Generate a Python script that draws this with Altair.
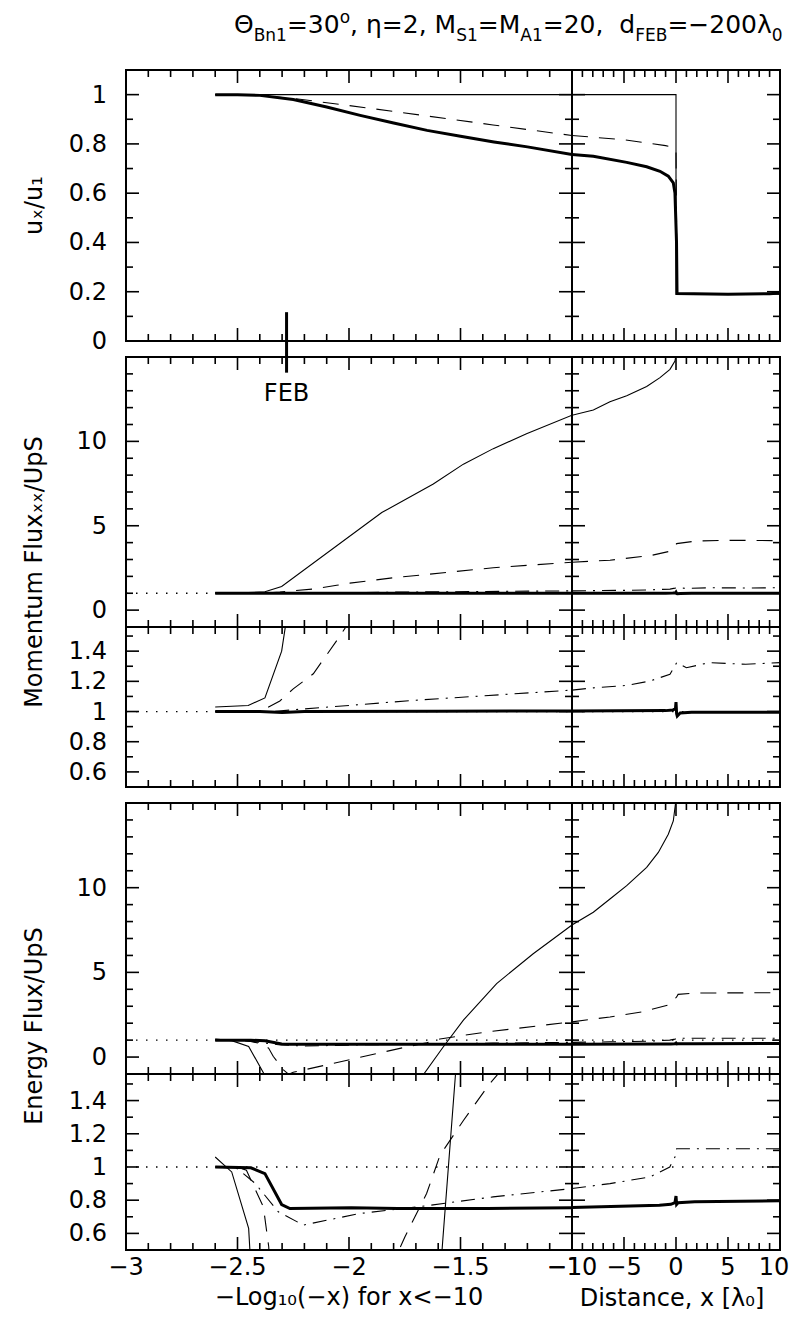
import altair as alt
import pandas as pd

FONT = "DejaVu Sans"
FW = "normal"

# ---------------- values ----------------
# left panels: abscissa = -Log10(-x) for x < -10 ; right panels: x in lambda_0
# ---- u_x / u_1 ----
U_THICK_LX = [-2.6, -2.5, -2.4, -2.25, -2.1, -1.95, -1.8, -1.65, -1.5, -1.35, -1.2, -1.0]
U_THICK_LY = [1.0, 1.0, 0.997, 0.98, 0.95, 0.916, 0.885, 0.855, 0.831, 0.808, 0.788, 0.757]
U_THICK_RX = [-10, -7.95, -4.74, -2.82, -1.54, -0.74, -0.26, -0.1, 0.05, 0.1, 5, 9, 10]
U_THICK_RY = [0.757, 0.750, 0.725, 0.707, 0.689, 0.669, 0.642, 0.601, 0.40, 0.193, 0.19, 0.192, 0.195]
U_THIN_LX = [-2.6, -1.0]
U_THIN_LY = [1.0, 1.0]
U_THIN_RX = [-10, 0, 0, 10]
U_THIN_RY = [1.0, 1.0, 0.19, 0.19]
U_DASH_LX = [-2.6, -2.4, -2.3, -2.25, -1.8, -1.354, -1.0]
U_DASH_LY = [1.0, 0.997, 0.988, 0.985, 0.932, 0.877, 0.834]
U_DASH_RX = [-10, -5, -1, -0.3, 0.0, 0.1, 10]
U_DASH_RY = [0.834, 0.817, 0.793, 0.786, 0.77, 0.19, 0.19]

# ---- momentum flux ----
M_THICK_LX = [-2.6, -2.4, -2.3, -2.2, -1.6, -1.0]
M_THICK_LY = [1.0, 1.0, 0.994, 1.0, 1.002, 1.004]
M_THICK_RX = [-10, -1, -0.3, -0.05, 0.0, 0.06, 0.12, 0.4, 1.5, 10]
M_THICK_RY = [1.004, 1.006, 1.01, 1.02, 1.062, 0.985, 0.97, 0.99, 0.995, 0.995]
M_THIN_LX = [-2.6, -2.452, -2.377, -2.302, -1.853, -1.622, -1.487, -1.353, -1.204, -1.0]
M_THIN_LY = [1.03, 1.04, 1.09, 1.40, 5.78, 7.47, 8.65, 9.57, 10.45, 11.55]
M_THIN_RX = [-10, -7.95, -6.35, -4.74, -2.82, -1.54, -0.58, -0.1, 0.05, 0.3]
M_THIN_RY = [11.55, 11.86, 12.35, 12.71, 13.25, 13.78, 14.27, 14.76, 15.3, 18.0]
M_DASH_LX = [-2.6, -2.4, -2.31, -2.25, -2.16, -2.055, -1.996, -1.8, -1.353, -1.0]
M_DASH_LY = [1.0, 1.0, 1.07, 1.15, 1.25, 1.47, 1.60, 1.92, 2.51, 2.84]
M_DASH_RX = [-10, -6.35, -2.4, -0.58, 0.06, 1.99, 5.5, 9.35, 10]
M_DASH_RY = [2.84, 2.96, 3.24, 3.49, 3.94, 4.10, 4.14, 4.12, 4.10]
M_DDOT_LX = [-2.6, -2.35, -1.7, -1.0]
M_DDOT_LY = [1.0, 1.0, 1.075, 1.142]
M_DDOT_RX = [-10, -7.95, -4.74, -2.5, -0.58, -0.1, 0.06, 1.0, 3.2, 6.7, 10]
M_DDOT_RY = [1.142, 1.157, 1.173, 1.202, 1.247, 1.302, 1.324, 1.29, 1.324, 1.313, 1.324]

# ---- energy flux ----
E_THICK_LX = [-2.6, -2.44, -2.377, -2.302, -2.265, -1.99, -1.78, -1.38, -1.0]
E_THICK_LY = [1.0, 0.995, 0.96, 0.774, 0.75, 0.755, 0.75, 0.75, 0.755]
E_THICK_RX = [-10, -1.6, -0.5, -0.1, 0.0, 0.06, 0.2, 1.8, 10]
E_THICK_RY = [0.756, 0.77, 0.775, 0.785, 0.825, 0.775, 0.785, 0.79, 0.796]
E_THIN_LX = [-2.6, -2.526, -2.45, -2.38, -2.3, -1.75, -1.667, -1.58, -1.487, -1.338, -1.174, -1.0]
E_THIN_LY = [1.06, 0.97, 0.63, -1.02, -2.0, -2.0, -1.05, 0.55, 2.18, 4.34, 6.1, 7.8]
E_THIN_RX = [-10, -7.95, -6.35, -4.74, -2.82, -1.7, -0.74, -0.26, 0.0, 0.3]
E_THIN_RY = [7.8, 8.55, 9.33, 10.12, 11.2, 12.08, 13.16, 13.94, 15.2, 18.0]
E_DASH_LX = [-2.6, -2.5, -2.46, -2.384, -2.36, -2.34, -2.294, -2.27, -2.25, -1.951, -1.749,
             -1.652, -1.592, -1.487, -1.37, -1.0]
E_DASH_LY = [1.0, 1.0, 0.98, 0.76, 0.52, 0.05, -0.76, -1.02, -0.9, -0.02, 0.58,
             0.84, 1.07, 1.28, 1.5, 2.08]
E_DASH_RX = [-10, -6.35, -3.3, -0.58, 0.06, 0.2, 1.8, 9.35, 10]
E_DASH_RY = [2.08, 2.37, 2.66, 3.1, 3.55, 3.7, 3.78, 3.80, 3.78]
E_DDOT_LX = [-2.6, -2.5, -2.42, -2.317, -2.205, -1.951, -1.689, -1.354, -1.0]
E_DDOT_LY = [1.0, 0.99, 0.9, 0.73, 0.65, 0.72, 0.76, 0.82, 0.87]
E_DDOT_RX = [-10, -6.35, -2.5, -0.6, -0.1, 0.06, 1.8, 9.35, 10]
E_DDOT_RY = [0.87, 0.90, 0.94, 1.0, 1.06, 1.11, 1.11, 1.11, 1.11]

# far-upstream reference level (dotted)
REF_LX = [-3, -1]
REF_RX = [-10, 10]
REF_Y = [1, 1]

# FEB marker
FEB_X = [-2.28]
FEB_Y = [0.117]
FEB_Y2 = [-0.1285]
FEB_LABEL = "FEB"
FEB_LABEL_Y = [12.8]

# ticks and labels
LX_MAJOR = [-3, -2.5, -2, -1.5, -1]
LX_MINOR = [-2.9, -2.8, -2.7, -2.6, -2.4, -2.3, -2.2, -2.1, -1.9, -1.8, -1.7, -1.6,
            -1.4, -1.3, -1.2, -1.1]
RX_MAJOR = [-10, -5, 0, 5, 10]
RX_MINOR = [-9, -8, -7, -6, -4, -3, -2, -1, 1, 2, 3, 4, 6, 7, 8, 9]
U_Y_MAJOR = [0, 0.2, 0.4, 0.6, 0.8, 1.0]
U_Y_MINOR = [0.1, 0.3, 0.5, 0.7, 0.9]
F_Y_MAJOR = [0, 5, 10]
F_Y_MINOR = [1, 2, 3, 4, 6, 7, 8, 9, 11, 12, 13, 14]
Z_Y_MAJOR = [0.6, 0.8, 1.0, 1.2, 1.4]
Z_Y_MINOR = [0.7, 0.9, 1.1, 1.3, 1.5]

LX_LABELS = [-3, -2.5, -2, -1.5]
LX_EDGE_LABELS = [-1]
RX_LABELS = [-10, -5, 0, 5]
RX_EDGE_LABELS = [10]
U_LABELS = [0, 0.2, 0.4, 0.6, 0.8, 1]
F_LABELS = [0, 5, 10]
Z_LABELS = [0.6, 0.8, 1, 1.2, 1.4]

LX_DOM = [-3, -1]
RX_DOM = [-10, 10]
U_DOM = [0, 1.1]
F_DOM = [-1, 15]
Z_DOM = [0.5, 1.56]

TITLE_TEXT = ["Θ", "Bn1", "=30", "o", ", η=2, ", "M", "S1", "=M", "A1", "=20,  ",
              "d", "FEB", "=−200λ", "0"]
TITLE_KIND = ["n", "s", "n", "p", "n", "n", "s", "n", "s", "n", "n", "s", "n", "s"]

Y_TITLES = ["uₓ/u₁", "Momentum Fluxₓₓ/UpS", "Energy Flux/UpS"]
X_TITLES = ["−Log₁₀(−x) for x<−10", "Distance, x [λ₀]"]

# ---------------- layout / style ----------------
LW, RW = 446, 208
H1, H2, H3, H4, H5 = 271, 270, 160, 271, 176
GAP = 16
FS = 24

STY = {
    "thick": dict(strokeWidth=3),
    "thin": dict(strokeWidth=1.1),
    "dash": dict(strokeWidth=1.1, strokeDash=[16, 11]),
    "ddot": dict(strokeWidth=1.1, strokeDash=[14, 7, 2, 7]),
    "dot": dict(strokeWidth=1.3, strokeDash=[1.5, 8.5]),
}

TXT = dict(font=FONT, fontWeight=FW, fontSize=FS)


def sc(dom):
    return alt.Scale(domain=dom, nice=False, zero=False)


def line_layer(xs, ys, style, xd, yd):
    d = pd.DataFrame({"x": xs, "y": ys, "i": list(range(len(xs)))})
    return alt.Chart(d).mark_line(clip=True, **STY[style]).encode(
        x=alt.X("x:Q", scale=sc(xd), axis=None),
        y=alt.Y("y:Q", scale=sc(yd), axis=None),
        order=alt.Order("i:Q"),
        color=alt.value("black"),
    )


def tick_layers(xd, yd, w, h, xmaj, xmin, ymaj, ymin):
    out = []
    for vals, ln in ((xmaj, 13), (xmin, 7)):
        d = pd.DataFrame({"v": vals})
        for top in (True, False):
            out.append(alt.Chart(d).mark_rule(strokeWidth=1.6).encode(
                x=alt.X("v:Q", scale=sc(xd), axis=None),
                y=alt.value(0 if top else h),
                y2=alt.value(ln if top else h - ln),
                color=alt.value("black"),
            ))
    for vals, ln in ((ymaj, 13), (ymin, 7)):
        d = pd.DataFrame({"v": vals})
        for left in (True, False):
            out.append(alt.Chart(d).mark_rule(strokeWidth=1.6).encode(
                y=alt.Y("v:Q", scale=sc(yd), axis=None),
                x=alt.value(0 if left else w),
                x2=alt.value(ln if left else w - ln),
                color=alt.value("black"),
            ))
    return out


def ylabel_layer(vals, yd):
    return alt.Chart(pd.DataFrame({"v": vals})).mark_text(
        align="right", baseline="middle", dy=1, **TXT).encode(
        x=alt.value(-19),
        y=alt.Y("v:Q", scale=sc(yd), axis=None),
        text=alt.Text("v:Q", format="~g"),
        color=alt.value("black"),
    )


def xlabel_layer(vals, xd, h, dx=0):
    return alt.Chart(pd.DataFrame({"v": vals})).mark_text(
        align="center", baseline="top", dx=dx, **TXT).encode(
        x=alt.X("v:Q", scale=sc(xd), axis=None),
        y=alt.value(h + 6),
        text=alt.Text("v:Q", format="~g"),
        color=alt.value("black"),
    )


def ytitle_layer(text, ypix):
    return alt.Chart(pd.DataFrame({"a": [0]})).mark_text(
        align="center", baseline="alphabetic", angle=270, **TXT).encode(
        x=alt.value(-84), y=alt.value(ypix), text=alt.value(text),
        color=alt.value("black"))


def xtitle_layer(text, xpix, ypix):
    return alt.Chart(pd.DataFrame({"a": [0]})).mark_text(
        align="center", baseline="alphabetic", **TXT).encode(
        x=alt.value(xpix), y=alt.value(ypix), text=alt.value(text),
        color=alt.value("black"))


def panel(xd, w, yd, h, lines, xmaj, xmin, ymaj, ymin, extras=()):
    layers = [line_layer(xs, ys, st, xd, yd) for xs, ys, st in lines]
    layers += tick_layers(xd, yd, w, h, xmaj, xmin, ymaj, ymin)
    layers += list(extras)
    return alt.layer(*layers).properties(width=w, height=h)


def spacer(w):
    return alt.Chart(pd.DataFrame({"a": [0]})).mark_point(opacity=0).encode(
        x=alt.value(0), y=alt.value(0)
    ).properties(width=w, height=GAP,
                 view=alt.ViewBackground(strokeOpacity=0, strokeWidth=0))


# ---------------- title (segments with sub/superscripts) ----------------
CW = {"Θ": .787, "B": .686, "n": .634, "=": .838, "o": .612, ",": .318, " ": .318,
      "η": .634, "M": .863, "S": .635, "A": .684, "d": .635, "F": .575, "E": .632,
      "−": .838, "λ": .592}
title_layers = []
xcur = 108.0
for seg, kind in zip(TITLE_TEXT, TITLE_KIND):
    fs = 25 if kind == "n" else 17
    dy = 0 if kind == "n" else (8 if kind == "s" else -10)
    title_layers.append(
        alt.Chart(pd.DataFrame({"a": [0]})).mark_text(
            font=FONT, fontWeight=FW, fontSize=fs, align="left", baseline="alphabetic"
        ).encode(x=alt.value(xcur), y=alt.value(-37 + dy), text=alt.value(seg),
                 color=alt.value("black"))
    )
    xcur += sum(CW.get(c, 0.636) for c in seg) * fs

feb_rule = alt.Chart(pd.DataFrame({"x": FEB_X, "y": FEB_Y, "y2": FEB_Y2})).mark_rule(
    strokeWidth=3).encode(
    x=alt.X("x:Q", scale=sc(LX_DOM), axis=None),
    y=alt.Y("y:Q", scale=sc(U_DOM), axis=None),
    y2="y2:Q",
    color=alt.value("black"),
)
feb_text = alt.Chart(pd.DataFrame({"x": FEB_X, "y": FEB_LABEL_Y})).mark_text(
    align="center", baseline="middle", **TXT
).encode(
    x=alt.X("x:Q", scale=sc(LX_DOM), axis=None),
    y=alt.Y("y:Q", scale=sc(F_DOM), axis=None),
    text=alt.value(FEB_LABEL),
    color=alt.value("black"),
)

# ---------------- panels ----------------
p1l = panel(LX_DOM, LW, U_DOM, H1,
            [(U_DASH_LX, U_DASH_LY, "dash"), (U_THIN_LX, U_THIN_LY, "thin"),
             (U_THICK_LX, U_THICK_LY, "thick")],
            LX_MAJOR, LX_MINOR, U_Y_MAJOR, U_Y_MINOR,
            extras=[feb_rule, ylabel_layer(U_LABELS, U_DOM),
                    ytitle_layer(Y_TITLES[0], H1 / 2)] + title_layers)
p1r = panel(RX_DOM, RW, U_DOM, H1,
            [(U_DASH_RX, U_DASH_RY, "dash"), (U_THIN_RX, U_THIN_RY, "thin"),
             (U_THICK_RX, U_THICK_RY, "thick")],
            RX_MAJOR, RX_MINOR, U_Y_MAJOR, U_Y_MINOR)


def mom_lines(side):
    if side == "L":
        return [(REF_LX, REF_Y, "dot"), (M_DDOT_LX, M_DDOT_LY, "ddot"),
                (M_DASH_LX, M_DASH_LY, "dash"), (M_THIN_LX, M_THIN_LY, "thin"),
                (M_THICK_LX, M_THICK_LY, "thick")]
    return [(REF_RX, REF_Y, "dot"), (M_DDOT_RX, M_DDOT_RY, "ddot"),
            (M_DASH_RX, M_DASH_RY, "dash"), (M_THIN_RX, M_THIN_RY, "thin"),
            (M_THICK_RX, M_THICK_RY, "thick")]


def en_lines(side):
    if side == "L":
        return [(REF_LX, REF_Y, "dot"), (E_DDOT_LX, E_DDOT_LY, "ddot"),
                (E_DASH_LX, E_DASH_LY, "dash"), (E_THIN_LX, E_THIN_LY, "thin"),
                (E_THICK_LX, E_THICK_LY, "thick")]
    return [(REF_RX, REF_Y, "dot"), (E_DDOT_RX, E_DDOT_RY, "ddot"),
            (E_DASH_RX, E_DASH_RY, "dash"), (E_THIN_RX, E_THIN_RY, "thin"),
            (E_THICK_RX, E_THICK_RY, "thick")]


p2l = panel(LX_DOM, LW, F_DOM, H2, mom_lines("L"), LX_MAJOR, LX_MINOR, F_Y_MAJOR, F_Y_MINOR,
            extras=[feb_text, ylabel_layer(F_LABELS, F_DOM),
                    ytitle_layer(Y_TITLES[1], 215)])
p2r = panel(RX_DOM, RW, F_DOM, H2, mom_lines("R"), RX_MAJOR, RX_MINOR, F_Y_MAJOR, F_Y_MINOR)
p3l = panel(LX_DOM, LW, Z_DOM, H3, mom_lines("L"), LX_MAJOR, LX_MINOR, Z_Y_MAJOR, Z_Y_MINOR,
            extras=[ylabel_layer(Z_LABELS, Z_DOM)])
p3r = panel(RX_DOM, RW, Z_DOM, H3, mom_lines("R"), RX_MAJOR, RX_MINOR, Z_Y_MAJOR, Z_Y_MINOR)
p4l = panel(LX_DOM, LW, F_DOM, H4, en_lines("L"), LX_MAJOR, LX_MINOR, F_Y_MAJOR, F_Y_MINOR,
            extras=[ylabel_layer(F_LABELS, F_DOM), ytitle_layer(Y_TITLES[2], 223)])
p4r = panel(RX_DOM, RW, F_DOM, H4, en_lines("R"), RX_MAJOR, RX_MINOR, F_Y_MAJOR, F_Y_MINOR)
p5l = panel(LX_DOM, LW, Z_DOM, H5, en_lines("L"), LX_MAJOR, LX_MINOR, Z_Y_MAJOR, Z_Y_MINOR,
            extras=[ylabel_layer(Z_LABELS, Z_DOM),
                    xlabel_layer(LX_LABELS, LX_DOM, H5),
                    xlabel_layer(LX_EDGE_LABELS, LX_DOM, H5, dx=-7.6),
                    xtitle_layer(X_TITLES[0], LW / 2, H5 + 55)])
p5r = panel(RX_DOM, RW, Z_DOM, H5, en_lines("R"), RX_MAJOR, RX_MINOR, Z_Y_MAJOR, Z_Y_MINOR,
            extras=[xlabel_layer(RX_LABELS, RX_DOM, H5),
                    xlabel_layer(RX_EDGE_LABELS, RX_DOM, H5, dx=-6),
                    xtitle_layer(X_TITLES[1], RW / 2 - 4, H5 + 56)])

cells = [p1l, p1r, spacer(LW), spacer(RW), p2l, p2r, p3l, p3r,
         spacer(LW), spacer(RW), p4l, p4r, p5l, p5r]

chart = alt.concat(*cells, columns=2, spacing=0, bounds="flush").properties(
    padding={"left": 14, "top": 0, "right": 0, "bottom": 4},
    background="white",
).configure_view(stroke="black", strokeWidth=2)

chart.save("out.html", embed_options={"renderer": "svg", "actions": False})
